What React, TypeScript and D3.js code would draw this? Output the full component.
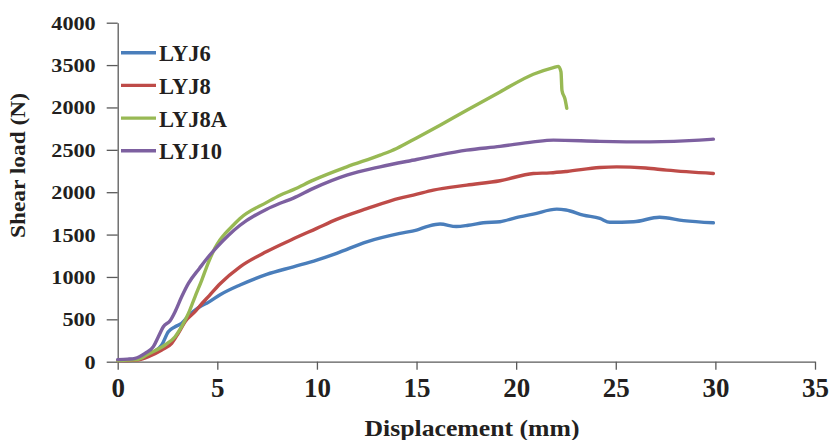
import React, { useEffect, useRef } from "react";
import * as d3 from "d3";

const xTicks = [0, 5, 10, 15, 20, 25, 30, 35];
const yTicks = [0, 500, 1000, 1500, 2000, 2500, 3000, 3500, 4000];
const yTickLabels = ["0", "500", "1000", "1500", "2000", "2500", "2000", "3500", "4000"];

const seriesNames = ["LYJ6", "LYJ8", "LYJ8A", "LYJ10"];
const seriesColors = ["#4a7ebb", "#be4b48", "#98b954", "#7d60a0"];

const lyj6X = [0, 0.5, 1.0, 1.4, 1.71, 2.21, 2.54, 2.88, 3.21, 3.55, 4.1, 4.55, 5.14, 6.14, 7.48, 8.82, 9.99, 10.99, 12.5, 14.17, 15.0, 15.6, 16.18, 17.0, 17.6, 18.35, 19.19, 20.0, 20.86, 22.04, 22.5, 23.37, 24.2, 24.7, 25.9, 27.2, 28.4, 29.9];
const lyj6Y = [20, 25, 30, 55, 99, 197, 354, 413, 453, 539, 645, 700, 790, 905, 1030, 1120, 1199, 1278, 1415, 1514, 1553, 1600, 1624, 1595, 1610, 1639, 1651, 1700, 1741, 1800, 1790, 1730, 1691, 1645, 1651, 1705, 1665, 1639];

const lyj8X = [0, 0.5, 1.0, 1.2, 1.54, 2.21, 2.71, 3.04, 3.38, 3.88, 4.13, 4.6, 5.14, 6.14, 7.48, 8.82, 9.99, 10.99, 12.5, 14.17, 14.84, 15.84, 17.52, 19.19, 20.86, 21.7, 22.54, 24.2, 25.05, 26.5, 27.56, 29.9];
const lyj8Y = [15, 15, 18, 30, 59, 138, 217, 335, 472, 590, 660, 780, 920, 1120, 1300, 1450, 1573, 1679, 1805, 1930, 1965, 2024, 2083, 2135, 2221, 2228, 2245, 2292, 2299, 2285, 2260, 2221];

const lyj8aX = [0, 0.5, 1.0, 1.54, 2.37, 2.88, 3.21, 3.55, 3.88, 4.22, 4.55, 4.88, 5.14, 5.39, 5.8, 6.14, 7.48, 8.15, 8.82, 9.82, 11.5, 13.17, 14.0, 15.0, 16.18, 17.52, 19.19, 20.86, 21.87, 22.12, 22.25, 22.3, 22.45, 22.54];
const lyj8aY = [15, 18, 25, 91, 197, 295, 413, 570, 766, 963, 1170, 1340, 1440, 1510, 1610, 1690, 1880, 1965, 2030, 2142, 2299, 2437, 2516, 2640, 2791, 2968, 3183, 3392, 3470, 3485, 3420, 3200, 3100, 2990];

const lyj10X = [0, 0.5, 0.87, 1.37, 1.79, 2.04, 2.29, 2.63, 2.88, 3.21, 3.55, 4.1, 4.55, 4.97, 5.55, 6.14, 7.48, 8.15, 8.82, 9.82, 11.5, 13.17, 15.0, 15.84, 17.52, 19.19, 20.86, 21.87, 24.2, 26.7, 29.2, 29.9];
const lyj10Y = [25, 30, 40, 99, 177, 295, 413, 483, 590, 766, 924, 1100, 1238, 1350, 1490, 1610, 1800, 1870, 1930, 2045, 2201, 2299, 2386, 2425, 2496, 2540, 2594, 2614, 2600, 2594, 2614, 2626];

const seriesX = [lyj6X, lyj8X, lyj8aX, lyj10X];
const seriesY = [lyj6Y, lyj8Y, lyj8aY, lyj10Y];

const W = 829;
const H = 440;
const FONT = '"Liberation Serif", serif';

export default function App() {
  const ref = useRef<SVGSVGElement>(null);

  useEffect(() => {
    const svg = d3.select(ref.current);
    svg.selectAll("*").remove();

    const x = d3.scaleLinear().domain([0, 35]).range([117.7, 815]);
    const y = d3.scaleLinear().domain([0, 4000]).range([361.7, 22.7]);
    const axisColor = "#5a5a5a";

    // Y axis
    const yAxis = d3
      .axisLeft(y)
      .tickValues(yTicks)
      .tickSize(11)
      .tickSizeOuter(0)
      .tickFormat((_d, i) => yTickLabels[i]);
    const gy = svg
      .append("g")
      .attr("transform", `translate(${x(0)},0)`)
      .call(yAxis)
      .attr("font-family", FONT);
    gy.select(".domain").attr("stroke", axisColor).attr("stroke-width", 1.3);
    gy.selectAll(".tick line").attr("stroke", axisColor).attr("stroke-width", 1.3);
    const sx = 1.17;
    gy.selectAll(".tick text")
      .attr("x", -22 / sx)
      .attr("dy", "0.34em")
      .attr("transform", `scale(${sx},1)`)
      .attr("fill", "#231f20")
      .attr("font-family", FONT)
      .attr("font-weight", "bold")
      .attr("font-size", 19);

    // X axis
    const xAxis = d3.axisBottom(x).tickValues(xTicks).tickSize(8).tickSizeOuter(0).tickFormat(d3.format("d"));
    const gx = svg
      .append("g")
      .attr("transform", `translate(0,${y(0)})`)
      .call(xAxis)
      .attr("font-family", FONT);
    gx.select(".domain").attr("stroke", axisColor).attr("stroke-width", 1.3);
    gx.selectAll(".tick line").attr("stroke", axisColor).attr("stroke-width", 1.3);
    gx.selectAll(".tick text")
      .attr("y", 35)
      .attr("dy", 0)
      .attr("fill", "#231f20")
      .attr("font-family", FONT)
      .attr("font-weight", "bold")
      .attr("font-size", 27);

    // Lines
    seriesNames.forEach((_name, si) => {
      const pts = seriesX[si].map((v, i) => [v, seriesY[si][i]] as [number, number]);
      const line = d3
        .line<[number, number]>()
        .x((d) => x(d[0]))
        .y((d) => y(d[1]))
        .curve(d3.curveMonotoneX);
      svg
        .append("path")
        .attr("d", line(pts) || "")
        .attr("fill", "none")
        .attr("stroke", seriesColors[si])
        .attr("stroke-width", 3.4)
        .attr("stroke-linejoin", "round")
        .attr("stroke-linecap", "round");
    });

    // Legend
    const legendY0 = 52.7;
    const legendStep = 32.7;
    seriesNames.forEach((name, si) => {
      const ly = legendY0 + si * legendStep;
      svg
        .append("line")
        .attr("x1", 121)
        .attr("x2", 156)
        .attr("y1", ly)
        .attr("y2", ly)
        .attr("stroke", seriesColors[si])
        .attr("stroke-width", 3.4);
      svg
        .append("text")
        .attr("x", 159)
        .attr("y", ly + 8.5)
        .attr("fill", "#231f20")
        .attr("font-family", FONT)
        .attr("font-weight", "bold")
        .attr("font-size", 22.5)
        .text(name);
    });

    // Axis titles
    svg
      .append("text")
      .attr("x", 472)
      .attr("y", 435.5)
      .attr("text-anchor", "middle")
      .attr("textLength", 215)
      .attr("lengthAdjust", "spacingAndGlyphs")
      .attr("fill", "#231f20")
      .attr("font-family", FONT)
      .attr("font-weight", "bold")
      .attr("font-size", 24)
      .text("Displacement (mm)");

    svg
      .append("text")
      .attr("transform", "translate(25,165.5) rotate(-90)")
      .attr("text-anchor", "middle")
      .attr("textLength", 145)
      .attr("lengthAdjust", "spacingAndGlyphs")
      .attr("fill", "#231f20")
      .attr("font-family", FONT)
      .attr("font-weight", "bold")
      .attr("font-size", 22)
      .text("Shear load (N)");
  }, []);

  return (
    <svg
      ref={ref}
      width={W}
      height={H}
      style={{ position: "absolute", left: 0, top: 0, background: "#fff" }}
    />
  );
}
